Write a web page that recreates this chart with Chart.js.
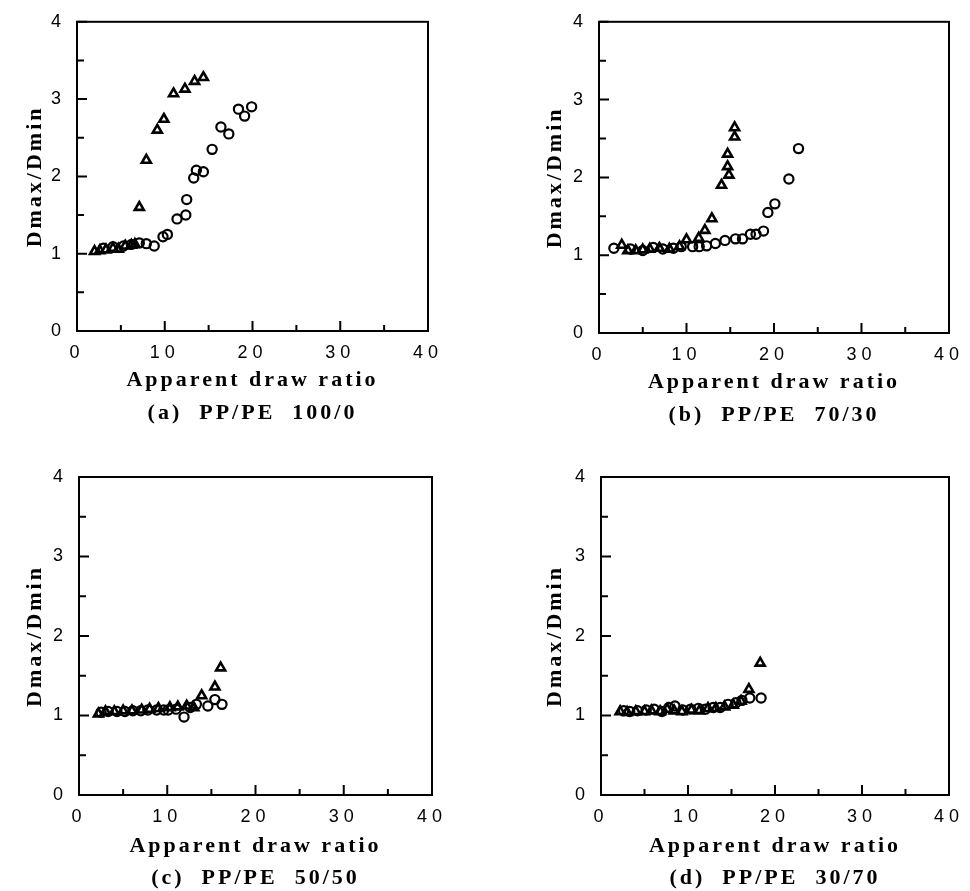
<!DOCTYPE html>
<html>
<head>
<meta charset="utf-8">
<script src="https://cdn.jsdelivr.net/npm/chart.js@4/dist/chart.umd.min.js"></script>
<style>
  body { margin: 0; background: #fff; }
  .wrap { position: relative; width: 970px; height: 891px; }
  canvas { position: absolute; }
</style>
</head>
<body>
<div class="wrap">
  <canvas id="pa" width="485" height="445" style="left:0;top:0"></canvas>
  <canvas id="pb" width="485" height="445" style="left:485px;top:0"></canvas>
  <canvas id="pc" width="485" height="446" style="left:0;top:445px"></canvas>
  <canvas id="pd" width="485" height="446" style="left:485px;top:445px"></canvas>
</div>
<script>
// tick values shared by all four panels
const xTickVals = [0, 10, 20, 30, 40];
const yTickVals = [0, 1, 2, 3, 4];

// (a) PP/PE 100/0
const aCircX = [3.0, 4.1, 5.3, 6.2, 7.1, 7.9, 8.8, 9.8, 10.3, 11.4, 12.4, 12.5, 13.3, 13.6, 14.4, 15.4, 16.4, 17.3, 18.4, 19.1, 19.9];
const aCircY = [1.07, 1.09, 1.10, 1.12, 1.14, 1.13, 1.10, 1.22, 1.25, 1.45, 1.50, 1.70, 1.98, 2.08, 2.06, 2.35, 2.64, 2.55, 2.87, 2.78, 2.90];
const aTriX = [2.0, 2.6, 3.3, 4.1, 4.7, 5.5, 6.2, 6.6, 7.1, 7.9, 9.15, 9.9, 11.0, 12.3, 13.4, 14.4];
const aTriY = [1.03, 1.04, 1.05, 1.07, 1.06, 1.10, 1.11, 1.12, 1.60, 2.21, 2.60, 2.74, 3.07, 3.13, 3.23, 3.28];

// (b) PP/PE 70/30
const bCircX = [1.7, 3.6, 5.0, 6.2, 7.3, 8.5, 9.4, 10.7, 11.45, 12.3, 13.3, 14.4, 15.6, 16.4, 17.3, 17.95, 18.8, 19.3, 20.1, 21.7, 22.8];
const bCircY = [1.09, 1.08, 1.06, 1.10, 1.08, 1.09, 1.11, 1.11, 1.11, 1.12, 1.15, 1.19, 1.21, 1.21, 1.27, 1.27, 1.31, 1.55, 1.66, 1.98, 2.37];
const bTriX = [2.6, 3.3, 4.2, 5.0, 5.8, 6.9, 8.05, 9.2, 10.0, 11.4, 12.1, 12.9, 14.0, 14.85, 14.7, 14.7, 15.5, 15.5];
const bTriY = [1.13, 1.06, 1.06, 1.07, 1.08, 1.09, 1.08, 1.11, 1.20, 1.22, 1.32, 1.47, 1.90, 2.03, 2.14, 2.30, 2.52, 2.64];

// (c) PP/PE 50/50
const cCircX = [2.5, 3.3, 4.3, 5.2, 6.1, 7.0, 7.8, 8.8, 9.6, 10.1, 11.0, 11.9, 12.6, 13.3, 14.6, 15.4, 16.2];
const cCircY = [1.04, 1.05, 1.05, 1.05, 1.06, 1.06, 1.07, 1.07, 1.07, 1.07, 1.08, 0.98, 1.10, 1.14, 1.12, 1.20, 1.14];
const cTriX = [2.2, 3.0, 4.0, 5.0, 6.0, 7.1, 8.0, 9.0, 10.3, 11.2, 12.2, 13.0, 13.9, 15.4, 16.05];
const cTriY = [1.02, 1.05, 1.05, 1.06, 1.06, 1.07, 1.08, 1.09, 1.10, 1.11, 1.12, 1.10, 1.25, 1.36, 1.60];

// (d) PP/PE 30/70
const dCircX = [2.6, 3.3, 4.2, 5.2, 6.1, 7.0, 7.8, 8.5, 9.4, 10.3, 11.2, 12.0, 12.9, 13.7, 14.6, 15.5, 16.2, 17.1, 18.4];
const dCircY = [1.06, 1.05, 1.06, 1.07, 1.08, 1.05, 1.10, 1.12, 1.07, 1.08, 1.09, 1.08, 1.10, 1.10, 1.14, 1.16, 1.19, 1.22, 1.22];
const dTriX = [2.2, 3.0, 4.0, 5.0, 5.8, 6.8, 7.6, 8.4, 9.3, 10.4, 11.3, 12.3, 13.2, 14.2, 15.2, 16.1, 17.0, 18.3];
const dTriY = [1.05, 1.04, 1.05, 1.05, 1.06, 1.05, 1.08, 1.06, 1.05, 1.07, 1.06, 1.09, 1.09, 1.11, 1.13, 1.18, 1.33, 1.66];

const toPts = (xs, ys) => xs.map((x, i) => ({ x: x, y: ys[i] }));

// frame round the plot plus inward major/minor ticks on left and bottom
const frameTicks = {
    id: 'frameTicks',
    afterDraw(chart) {
        const { ctx, chartArea: a, scales } = chart;
        const x = scales.x, y = scales.y;
        ctx.save();
        ctx.strokeStyle = '#000';
        ctx.lineWidth = 2;
        ctx.strokeRect(a.left, a.top, a.right - a.left, a.bottom - a.top);
        ctx.beginPath();
        for (let i = 0; i < xTickVals.length; i++) {
            const px = x.getPixelForValue(xTickVals[i]);
            ctx.moveTo(px, a.bottom); ctx.lineTo(px, a.bottom - 10);
            if (i < xTickVals.length - 1) {
                const mx = x.getPixelForValue((xTickVals[i] + xTickVals[i + 1]) / 2);
                ctx.moveTo(mx, a.bottom); ctx.lineTo(mx, a.bottom - 6);
            }
        }
        for (let i = 0; i < yTickVals.length; i++) {
            const py = y.getPixelForValue(yTickVals[i]);
            ctx.moveTo(a.left, py); ctx.lineTo(a.left + 10, py);
            if (i < yTickVals.length - 1) {
                const my = y.getPixelForValue((yTickVals[i] + yTickVals[i + 1]) / 2);
                ctx.moveTo(a.left, my); ctx.lineTo(a.left + 7, my);
            }
        }
        ctx.stroke();
        ctx.restore();
    }
};

// letter spacing: titles a little, tick labels a bit more (ticks drawn after datasets)
const spacing = {
    id: 'spacing',
    beforeDraw(chart) { chart.ctx.letterSpacing = '3px'; },
    afterDatasetsDraw(chart) { chart.ctx.letterSpacing = '5px'; }
};

const serif = "'Liberation Serif', 'Times New Roman', serif";
const sans = "'Liberation Sans', Arial, sans-serif";

const makePanel = (id, circles, triangles, caption, lay) => {
    new Chart(document.getElementById(id), {
        type: 'scatter',
        data: {
            datasets: [
                {
                    data: circles,
                    pointStyle: 'circle',
                    pointRadius: 4.6,
                    borderWidth: 2.2,
                    borderColor: '#000',
                    backgroundColor: 'rgba(255,255,255,0)'
                },
                {
                    data: triangles,
                    pointStyle: 'triangle',
                    pointRadius: 5.2,
                    borderWidth: 2.6,
                    borderColor: '#000',
                    backgroundColor: 'rgba(255,255,255,0)'
                }
            ]
        },
        options: {
            responsive: false,
            animation: false,
            layout: { padding: lay.pad },
            plugins: {
                legend: { display: false },
                tooltip: { enabled: false },
                title: {
                    display: true,
                    text: caption,
                    position: 'bottom',
                    fullSize: false,
                    color: '#000',
                    font: { family: serif, size: 22, weight: 'bold', lineHeight: 1.0 },
                    padding: { top: lay.capPad, bottom: 0 }
                }
            },
            scales: {
                x: {
                    type: 'linear',
                    min: 0,
                    max: 40,
                    afterBuildTicks: s => { s.ticks = xTickVals.map(v => ({ value: v })); },
                    afterFit: s => { s.height = lay.xh; },
                    grid: { display: false, drawTicks: false },
                    border: { display: false },
                    ticks: { color: '#000', padding: 11, z: 1, maxRotation: 0, font: { family: sans, size: 18 } },
                    title: {
                        display: true,
                        text: 'Apparent draw ratio',
                        color: '#000',
                        padding: 0,
                        font: { family: serif, size: 22, weight: 'bold' }
                    }
                },
                y: {
                    type: 'linear',
                    min: 0,
                    max: 4,
                    afterBuildTicks: s => { s.ticks = yTickVals.map(v => ({ value: v })); },
                    afterFit: s => { s.width = lay.yw; },
                    grid: { display: false, drawTicks: false },
                    border: { display: false },
                    ticks: { color: '#000', padding: 11, z: 1, font: { family: sans, size: 18 } },
                    title: {
                        display: true,
                        text: 'Dmax/Dmin',
                        color: '#000',
                        padding: 0,
                        font: { family: serif, size: 22, weight: 'bold' }
                    }
                }
            }
        },
        plugins: [spacing, frameTicks]
    });
};

makePanel('pa', toPts(aCircX, aCircY), toPts(aTriX, aTriY), '(a)  PP/PE  100/0',
    { pad: { left: 22, right: 57, top: 11, bottom: 21 }, yw: 55, xh: 63, capPad: 8 });
makePanel('pb', toPts(bCircX, bCircY), toPts(bTriX, bTriY), '(b)  PP/PE  70/30',
    { pad: { left: 57, right: 18, top: 13, bottom: 19 }, yw: 57, xh: 63, capPad: 8 });
makePanel('pc', toPts(cCircX, cCircY), toPts(cTriX, cTriY), '(c)  PP/PE  50/50',
    { pad: { left: 22, right: 53, top: 32, bottom: 2 }, yw: 57, xh: 65, capPad: 7 });
makePanel('pd', toPts(dCircX, dCircY), toPts(dTriX, dTriY), '(d)  PP/PE  30/70',
    { pad: { left: 57, right: 17, top: 32, bottom: 2 }, yw: 59, xh: 65, capPad: 7 });
</script>
</body>
</html>
